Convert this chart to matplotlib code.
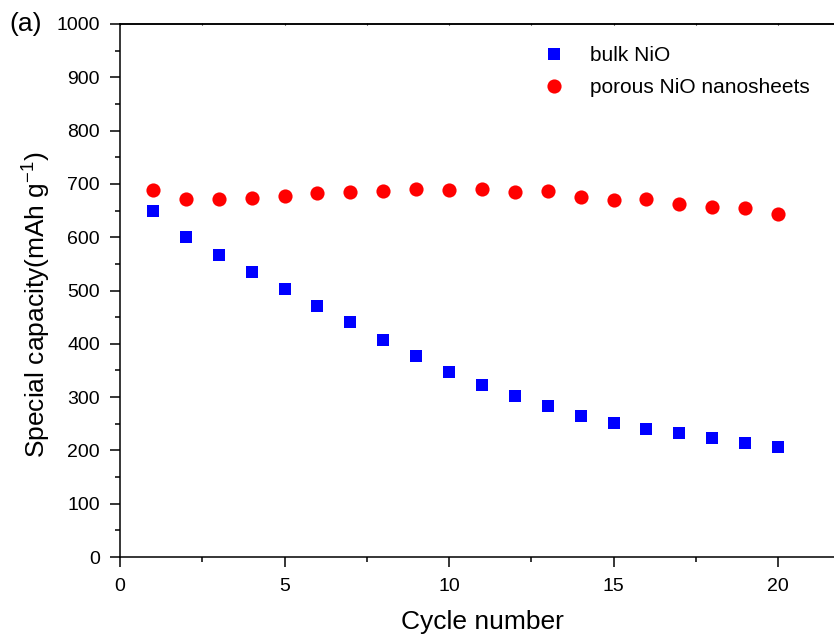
import matplotlib
matplotlib.use("Agg")
import matplotlib.pyplot as plt
from matplotlib.ticker import MultipleLocator

plt.rcParams['font.family'] = ['Liberation Sans', 'DejaVu Sans']

cycles = list(range(1, 21))
bulk_nio = [650, 600, 567, 535, 502, 471, 441, 408, 378, 347,
            322, 303, 284, 265, 251, 241, 232, 224, 214, 207]
porous_nio = [689, 671, 672, 674, 677, 683, 685, 687, 690, 688,
              690, 685, 686, 676, 670, 672, 662, 657, 655, 643]

W, H = 834, 636
fig = plt.figure(figsize=(W / 100, H / 100), dpi=100)

x0_px, x_unit = 120, 32.9
xmax = 22
ax_w_px = xmax * x_unit
ax = fig.add_axes([x0_px / W, (H - 557) / H, ax_w_px / W, 533 / H])

ax.plot(cycles, bulk_nio, 's', color='#0000ff', markersize=8.6,
        markeredgewidth=0, label='bulk NiO')
ax.plot(cycles, porous_nio, 'o', color='#ff0000', markersize=10.2,
        markeredgewidth=0, label='porous NiO nanosheets')

ax.set_xlim(0, xmax)
ax.set_ylim(0, 1000)
ax.xaxis.set_major_locator(MultipleLocator(5))
ax.xaxis.set_minor_locator(MultipleLocator(2.5))
ax.yaxis.set_major_locator(MultipleLocator(100))
ax.yaxis.set_minor_locator(MultipleLocator(50))

for s in ax.spines.values():
    s.set_linewidth(1.1)
ax.spines['right'].set_visible(False)

ax.tick_params(axis='both', which='major', direction='out', length=7,
               width=1.1, labelsize=14)
ax.tick_params(axis='x', which='major', pad=8)
ax.tick_params(axis='y', which='major', pad=7.5)
ax.tick_params(axis='both', which='minor', direction='out', length=3.5,
               width=1.1)

# tiny marks along the top frame line
top = ax.secondary_xaxis('top')
top.xaxis.set_major_locator(MultipleLocator(5))
top.xaxis.set_minor_locator(MultipleLocator(2.5))
top.tick_params(which='both', direction='inout', length=2, width=0.8,
                labeltop=False)
top.spines['top'].set_linewidth(1.1)

ax.set_xlabel('Cycle number', fontsize=19)
ax.set_ylabel(r'Special capacity(mAh g$^{\mathregular{-1}}$)', fontsize=19)
ax.xaxis.set_label_coords((482 - x0_px) / ax_w_px, -(610 - 557) / 533)
ax.yaxis.set_label_coords(-(120 - 52) / ax_w_px, 0.5 - 14 / 533)

leg = ax.legend(loc='upper left', bbox_to_anchor=(530 / W, 1 - 38 / H),
                bbox_transform=fig.transFigure, frameon=False, fontsize=15,
                handletextpad=1.0, labelspacing=0.6, borderaxespad=0,
                handlelength=1.5)

fig.text(9 / W, 1 - 24 / H, '(a)', fontsize=19, va='center', ha='left')

fig.savefig('out.png', dpi=100)
